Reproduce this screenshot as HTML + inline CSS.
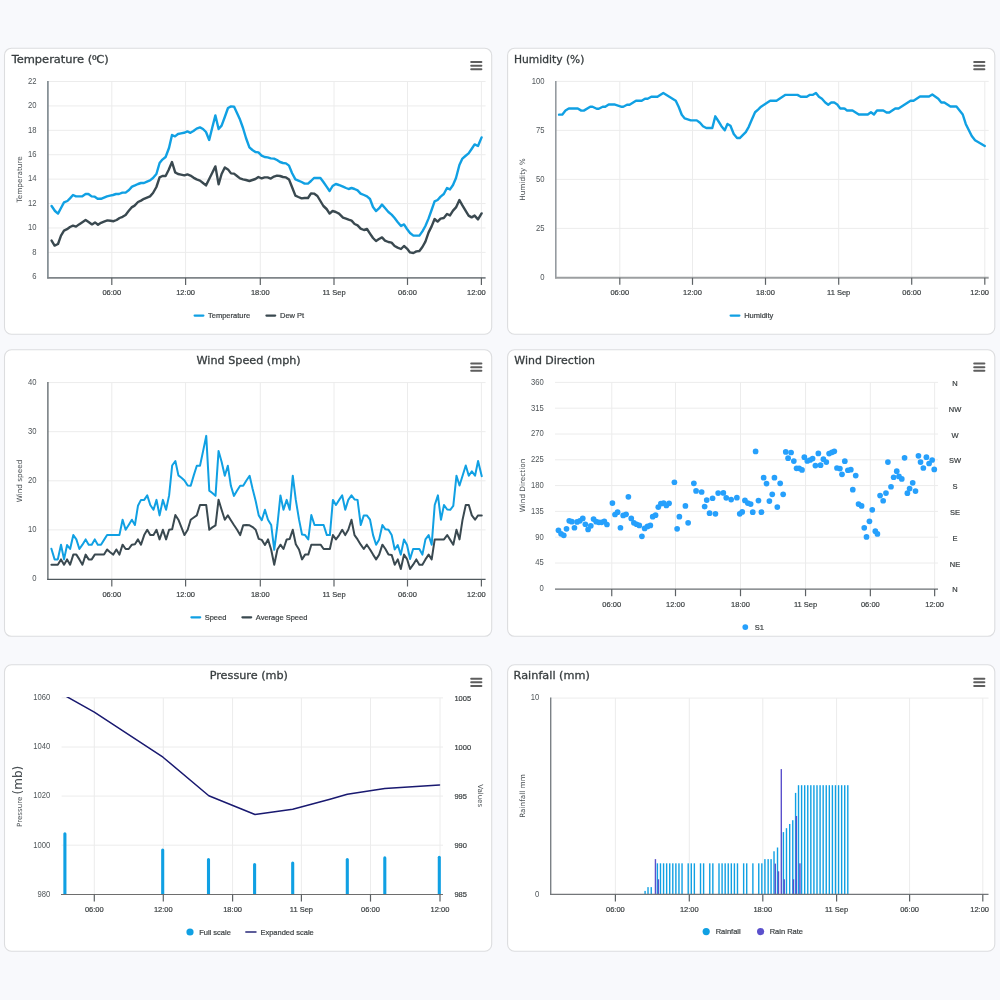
<!DOCTYPE html>
<html lang="en">
<head>
<meta charset="utf-8">
<title>Weather Charts</title>
<style>
html,body{margin:0;padding:0}
body{width:1000px;height:1000px;overflow:hidden;background:#f8f9fc;position:relative;font-family:"Liberation Sans",sans-serif}
.card{position:absolute}
.card svg{position:absolute;left:0;top:0;display:block}
svg text{font-family:"Liberation Sans",sans-serif;stroke:#3c4143;stroke-width:0.2px}
svg text.pp{font-family:"Liberation Sans",sans-serif;stroke:none;fill:#50565a}
svg text.yt{font-family:"DejaVu Sans","Liberation Sans",sans-serif;stroke:none;fill:#4a5054}
svg text.tt{font-family:"DejaVu Sans","Liberation Sans",sans-serif;stroke:#373d3f;stroke-width:0.3px}
svg text.tb{font-family:"DejaVu Sans","Liberation Sans",sans-serif;letter-spacing:0.3px;stroke:#373d3f;stroke-width:0.45px}
</style>
</head>
<body>
<div class="card" style="left:2px;top:46px;width:493px;height:291px"><svg width="493" height="291" viewBox="2 46 493 291"><rect x="4.5" y="48.2" width="487.2" height="286" rx="7" fill="#fff" stroke="#dcdddf" stroke-width="1.1"/><line x1="47.9" y1="81.5" x2="485.6" y2="81.5" stroke="#ececec" stroke-width="1" /><line x1="47.9" y1="105.91" x2="485.6" y2="105.91" stroke="#ececec" stroke-width="1" /><line x1="47.9" y1="130.32" x2="485.6" y2="130.32" stroke="#ececec" stroke-width="1" /><line x1="47.9" y1="154.73" x2="485.6" y2="154.73" stroke="#ececec" stroke-width="1" /><line x1="47.9" y1="179.14" x2="485.6" y2="179.14" stroke="#ececec" stroke-width="1" /><line x1="47.9" y1="203.55" x2="485.6" y2="203.55" stroke="#ececec" stroke-width="1" /><line x1="47.9" y1="227.96" x2="485.6" y2="227.96" stroke="#ececec" stroke-width="1" /><line x1="47.9" y1="252.37" x2="485.6" y2="252.37" stroke="#ececec" stroke-width="1" /><line x1="111.8" y1="81.5" x2="111.8" y2="277.6" stroke="#ececec" stroke-width="1" /><line x1="185.6" y1="81.5" x2="185.6" y2="277.6" stroke="#ececec" stroke-width="1" /><line x1="260.3" y1="81.5" x2="260.3" y2="277.6" stroke="#ececec" stroke-width="1" /><line x1="334" y1="81.5" x2="334" y2="277.6" stroke="#ececec" stroke-width="1" /><line x1="407.5" y1="81.5" x2="407.5" y2="277.6" stroke="#ececec" stroke-width="1" /><line x1="481.4" y1="81.5" x2="481.4" y2="277.6" stroke="#ececec" stroke-width="1" /><text transform="translate(36.6 83.8) scale(0.88 1)" font-size="8.7" text-anchor="end" fill="#3c4143" class="pp">22</text><text transform="translate(36.6 108.21) scale(0.88 1)" font-size="8.7" text-anchor="end" fill="#3c4143" class="pp">20</text><text transform="translate(36.6 132.62) scale(0.88 1)" font-size="8.7" text-anchor="end" fill="#3c4143" class="pp">18</text><text transform="translate(36.6 157.03) scale(0.88 1)" font-size="8.7" text-anchor="end" fill="#3c4143" class="pp">16</text><text transform="translate(36.6 181.44) scale(0.88 1)" font-size="8.7" text-anchor="end" fill="#3c4143" class="pp">14</text><text transform="translate(36.6 205.85) scale(0.88 1)" font-size="8.7" text-anchor="end" fill="#3c4143" class="pp">12</text><text transform="translate(36.6 230.26) scale(0.88 1)" font-size="8.7" text-anchor="end" fill="#3c4143" class="pp">10</text><text transform="translate(36.6 254.67) scale(0.88 1)" font-size="8.7" text-anchor="end" fill="#3c4143" class="pp">8</text><text transform="translate(36.6 279.08) scale(0.88 1)" font-size="8.7" text-anchor="end" fill="#3c4143" class="pp">6</text><text transform="translate(21.8 179.4) rotate(-90)" font-size="7.3" text-anchor="middle" fill="#3c4143" class="yt" >Temperature</text><polyline points="51.6,206 55,211 58,213.6 61,208 64,202.4 67.4,201 70,198.4 73,195 76,196.4 79,196.4 82,196.4 85.6,194 88.4,194 91.6,196.4 94.4,196.6 97.6,198.8 101,198.8 104,197.6 107,196.4 110,195.6 113,195 116,194 119,194 122.4,192.6 125.6,192.6 129,190 132,186.6 135,185.4 138,184 141,183 144,183 147,181.6 150,180.4 153,178 156.4,174 159.6,163 162.4,159.6 165.6,157 169,148 172,135 175,136.4 178,134 181,133.4 184,132.8 187.4,131.4 190.4,132.8 193.4,131 196.6,128.6 200,127.4 203,129 206,132 209.2,140 212.4,127 215.4,115.4 218.6,129 221.6,125.6 224.8,117 228,108 231,106.4 234,106.6 237,113 240,119.6 243,128 246,138 249.4,147.4 252.4,150 255.4,152 258.4,152.4 261.6,155.6 264.6,157 267.6,157.4 270.8,158.4 274,158.6 277,160 280,162 283,163 286,163.4 289,165.6 292,173 295.4,179.4 298.4,180.6 301.6,182 304.6,183.6 308,183.6 311,181 314,178 317.4,178 320.4,178 323.4,182 326.6,186.6 329.6,191 332.6,186 335.8,184 339,185 340,185.4 343,186.6 346,188 348.6,189 351.6,188 354.6,189 357.6,190.4 360.6,193.6 364,195 367,196.4 370,199 373,207 376,211 379,208.4 382,204.6 385,208 388.4,212 391.6,214.6 394.6,218 397.6,222 401,226 404,224.4 407,229 410,233 413.4,235.6 416.4,235.6 419.4,235.6 422.4,231.4 425.4,226 428.6,218.4 431.6,210 434.6,201.4 437.6,200 440.6,196.6 443.8,194 447,188 450,189.4 453,185 456,178 459.4,165 462.4,158.6 465.4,156 468.6,153.4 471.6,149 474.6,144.4 478,146 481.6,137.4" fill="none" stroke="#10a0e3" stroke-width="2.4" stroke-linejoin="round" stroke-linecap="round"/><polyline points="51.6,240.6 54.6,245.6 58,244 61,235.6 64,230.6 67,229.2 70,227 73,225.6 76,226.6 79,224.4 82,222.4 85.6,220 88.6,222 92,224.4 95,222.4 98,224.8 101,222.8 104,221.6 107.4,220.4 110.4,220.8 113.6,221.2 116.6,220 119.6,218 122.6,216.8 125.6,215 128.6,211 131.6,207.4 134.6,205.6 138,202 141,200.6 144,198.8 147,197.6 150,196.4 153,193 156.4,187 159.6,177.4 162.4,176 165.6,176 168.6,170 172,162 175.2,172.4 178,174 181,174.6 184.4,175.4 187.4,174.4 190.4,175.6 193.4,177.6 196.6,179.4 200,180.6 203,183 206,185.4 209.2,179 212.4,172.4 215.4,166.4 218.6,184.4 221.6,174 224.8,167.4 228,169.4 231,173.4 234,173.6 237,176 240,178.4 243,179.4 246,180 249.4,181 252.4,180 255.4,179 258.4,177 261.6,178.4 264.6,177.4 267.6,177.4 270.8,178.6 274,176.6 277,175.6 280,176 283,177 286,177.4 289,179.4 292,187 295.4,195.6 298.4,197 301.6,198.4 304.6,198 308,198 311,193.4 314,193.6 317.4,196 320.4,201 323.4,206 326.6,209 329.6,213.6 332.6,211 335.8,212 339,213.6 340,214.6 343,217.6 346,218.6 348.6,219.6 351.6,220.6 354.6,224 357.6,225.4 360.6,228.6 364,230 367,229 370,233.6 373,238 376,241 379,239 382,237.4 385,240.6 388.4,242 391.6,242.6 394.6,246 397.6,247.6 401,249 404,246 407,248.6 410,252.4 413.4,253 416.4,251.4 419.4,251 422.4,247 425.4,241.6 428.6,232.4 431.6,226.4 434.6,219 437.6,221.6 440.6,218.6 443.8,218 447,214 450,215.4 453,210.6 456,207.4 459.4,200 462.4,205.4 465.4,210.4 468.6,215.6 471.6,217.4 474.6,215.6 478,219.4 481.6,213.4" fill="none" stroke="#3a4950" stroke-width="2.4" stroke-linejoin="round" stroke-linecap="round"/><line x1="47.9" y1="81" x2="47.9" y2="278.4" stroke="#7a858b" stroke-width="1.6" /><line x1="47.2" y1="277.85" x2="485.6" y2="277.85" stroke="#7f8589" stroke-width="1.8" /><line x1="111.8" y1="277.85" x2="111.8" y2="284.95" stroke="#5d6265" stroke-width="1.2" /><text x="111.8" y="295.2" font-size="7.5" text-anchor="middle" fill="#3c4143" >06:00</text><line x1="185.6" y1="277.85" x2="185.6" y2="284.95" stroke="#5d6265" stroke-width="1.2" /><text x="185.6" y="295.2" font-size="7.5" text-anchor="middle" fill="#3c4143" >12:00</text><line x1="260.3" y1="277.85" x2="260.3" y2="284.95" stroke="#5d6265" stroke-width="1.2" /><text x="260.3" y="295.2" font-size="7.5" text-anchor="middle" fill="#3c4143" >18:00</text><line x1="334" y1="277.85" x2="334" y2="284.95" stroke="#5d6265" stroke-width="1.2" /><text x="334" y="295.2" font-size="7.5" text-anchor="middle" fill="#3c4143" >11 Sep</text><line x1="407.5" y1="277.85" x2="407.5" y2="284.95" stroke="#5d6265" stroke-width="1.2" /><text x="407.5" y="295.2" font-size="7.5" text-anchor="middle" fill="#3c4143" >06:00</text><line x1="481.4" y1="277.85" x2="481.4" y2="284.95" stroke="#5d6265" stroke-width="1.2" /><text x="485.8" y="295.2" font-size="7.5" text-anchor="end" fill="#3c4143" >12:00</text><text x="11.65" y="63" font-size="11" text-anchor="start" fill="#373d3f" class="tt" textLength="97.2" lengthAdjust="spacingAndGlyphs">Temperature (<tspan style="font-family:&quot;Liberation Sans&quot;,sans-serif">º</tspan>C)</text><g class="menu"><rect x="470.2" y="61" width="12.2" height="2" rx="1" fill="#5e5e5e"/><rect x="470.2" y="64.63" width="12.2" height="2" rx="1" fill="#5e5e5e"/><rect x="470.2" y="68.26" width="12.2" height="2" rx="1" fill="#5e5e5e"/></g><rect x="193.5" y="314.5" width="11" height="2.2" rx="1.1" fill="#10a0e3"/><text x="208" y="318" font-size="7.5" text-anchor="start" fill="#3c4143" >Temperature</text><rect x="265.3" y="314.5" width="11" height="2.2" rx="1.1" fill="#3a4950"/><text x="280" y="318" font-size="7.5" text-anchor="start" fill="#3c4143" >Dew Pt</text></svg></div>
<div class="card" style="left:505px;top:46px;width:493px;height:291px"><svg width="493" height="291" viewBox="505 46 493 291"><rect x="507.6" y="48.2" width="487.2" height="286" rx="7" fill="#fff" stroke="#dcdddf" stroke-width="1.1"/><line x1="556" y1="81.4" x2="988.7" y2="81.4" stroke="#ececec" stroke-width="1" /><line x1="556" y1="130.4" x2="988.7" y2="130.4" stroke="#ececec" stroke-width="1" /><line x1="556" y1="179.4" x2="988.7" y2="179.4" stroke="#ececec" stroke-width="1" /><line x1="556" y1="228.4" x2="988.7" y2="228.4" stroke="#ececec" stroke-width="1" /><line x1="619.8" y1="81.4" x2="619.8" y2="277.6" stroke="#ececec" stroke-width="1" /><line x1="692.5" y1="81.4" x2="692.5" y2="277.6" stroke="#ececec" stroke-width="1" /><line x1="765.5" y1="81.4" x2="765.5" y2="277.6" stroke="#ececec" stroke-width="1" /><line x1="838.7" y1="81.4" x2="838.7" y2="277.6" stroke="#ececec" stroke-width="1" /><line x1="911.7" y1="81.4" x2="911.7" y2="277.6" stroke="#ececec" stroke-width="1" /><line x1="984.8" y1="81.4" x2="984.8" y2="277.6" stroke="#ececec" stroke-width="1" /><text transform="translate(544.6 83.7) scale(0.88 1)" font-size="8.7" text-anchor="end" fill="#3c4143" class="pp">100</text><text transform="translate(544.6 132.7) scale(0.88 1)" font-size="8.7" text-anchor="end" fill="#3c4143" class="pp">75</text><text transform="translate(544.6 181.7) scale(0.88 1)" font-size="8.7" text-anchor="end" fill="#3c4143" class="pp">50</text><text transform="translate(544.6 230.7) scale(0.88 1)" font-size="8.7" text-anchor="end" fill="#3c4143" class="pp">25</text><text transform="translate(544.6 279.7) scale(0.88 1)" font-size="8.7" text-anchor="end" fill="#3c4143" class="pp">0</text><text transform="translate(525.2 179.6) rotate(-90)" font-size="7.3" text-anchor="middle" fill="#3c4143" class="yt" >Humidity %</text><polyline points="559.05,114.65 562.2,114.65 565.5,110.45 568.8,108.5 577.8,108.5 581.25,110.6 583.8,110.6 590.25,106.7 592.5,106.7 596.7,108.8 598.8,108.8 602.7,106.7 605.25,106.7 608.7,104.45 614.25,104.45 621,106.7 623.25,106.7 627,104.75 629.55,104.75 636,100.7 641.7,100.7 645,98.75 647.7,98.75 651.3,96.8 657.45,96.8 663.3,92.9 675.75,100.7 678.75,107 681.75,114.8 684.75,118.4 690.75,120.35 696.75,120.35 700,122.75 703,126.2 706.3,128 712.3,128 715.3,116.3 718.45,121.25 721.45,126.2 724.75,130.25 727.45,123.95 730.45,125.75 733.75,134 737.05,138.05 739.75,138.05 745.75,132.2 748.75,126.8 751.75,119.75 755.05,112.25 758.05,109.55 761.05,106.7 764.05,104.75 767.05,102.8 770.2,100.7 776.5,100.7 779.5,98.75 782.5,96.8 785.5,94.85 797.5,94.85 800.8,96.8 806.8,96.8 809.95,94.85 812.95,94.85 815.95,92.9 818.95,96.8 821.95,98.75 825.25,102.5 828.25,104.75 831.25,102.5 834.25,102.5 837.25,104.45 840.25,108.5 843.55,108.5 845,108.8 846.8,110.45 852.5,110.45 858.8,114.5 867.8,114.5 870.95,112.25 873.95,114.5 876.95,110.45 883.25,110.45 886.55,112.55 889.25,112.55 895.25,108.5 898.55,108.5 910.55,100.7 913.55,100.7 920,96.5 929,96.5 932.3,94.55 938.3,98.75 941.3,102.5 944.3,102.5 950.45,106.55 956.45,106.55 962.75,114.5 965.75,123.95 971.75,135.95 975.05,140.3 984.8,146" fill="none" stroke="#10a0e3" stroke-width="2.4" stroke-linejoin="round" stroke-linecap="round"/><line x1="555.8" y1="80.9" x2="555.8" y2="278.5" stroke="#959ba0" stroke-width="1.6" /><line x1="555.1" y1="277.75" x2="988.7" y2="277.75" stroke="#9c9fa1" stroke-width="1.9" /><line x1="619.8" y1="277.75" x2="619.8" y2="284.85" stroke="#5d6265" stroke-width="1.2" /><text x="619.8" y="295.2" font-size="7.5" text-anchor="middle" fill="#3c4143" >06:00</text><line x1="692.5" y1="277.75" x2="692.5" y2="284.85" stroke="#5d6265" stroke-width="1.2" /><text x="692.5" y="295.2" font-size="7.5" text-anchor="middle" fill="#3c4143" >12:00</text><line x1="765.5" y1="277.75" x2="765.5" y2="284.85" stroke="#5d6265" stroke-width="1.2" /><text x="765.5" y="295.2" font-size="7.5" text-anchor="middle" fill="#3c4143" >18:00</text><line x1="838.7" y1="277.75" x2="838.7" y2="284.85" stroke="#5d6265" stroke-width="1.2" /><text x="838.7" y="295.2" font-size="7.5" text-anchor="middle" fill="#3c4143" >11 Sep</text><line x1="911.7" y1="277.75" x2="911.7" y2="284.85" stroke="#5d6265" stroke-width="1.2" /><text x="911.7" y="295.2" font-size="7.5" text-anchor="middle" fill="#3c4143" >06:00</text><line x1="984.8" y1="277.75" x2="984.8" y2="284.85" stroke="#5d6265" stroke-width="1.2" /><text x="989" y="295.2" font-size="7.5" text-anchor="end" fill="#3c4143" >12:00</text><text x="513.9" y="63" font-size="11" text-anchor="start" fill="#373d3f" class="tt" textLength="70.6" lengthAdjust="spacingAndGlyphs">Humidity (%)</text><g class="menu"><rect x="973.2" y="61" width="12.2" height="2" rx="1" fill="#5e5e5e"/><rect x="973.2" y="64.63" width="12.2" height="2" rx="1" fill="#5e5e5e"/><rect x="973.2" y="68.26" width="12.2" height="2" rx="1" fill="#5e5e5e"/></g><rect x="729.5" y="314.5" width="11" height="2.2" rx="1.1" fill="#10a0e3"/><text x="744.2" y="318" font-size="7.5" text-anchor="start" fill="#3c4143" >Humidity</text></svg></div>
<div class="card" style="left:2px;top:347px;width:493px;height:292px"><svg width="493" height="292" viewBox="2 347 493 292"><rect x="4.5" y="349.8" width="487.2" height="286.5" rx="7" fill="#fff" stroke="#dcdddf" stroke-width="1.1"/><line x1="47.9" y1="382.6" x2="485.6" y2="382.6" stroke="#ececec" stroke-width="1" /><line x1="47.9" y1="431.7" x2="485.6" y2="431.7" stroke="#ececec" stroke-width="1" /><line x1="47.9" y1="480.8" x2="485.6" y2="480.8" stroke="#ececec" stroke-width="1" /><line x1="47.9" y1="529.9" x2="485.6" y2="529.9" stroke="#ececec" stroke-width="1" /><line x1="111.8" y1="382.6" x2="111.8" y2="579.4" stroke="#ececec" stroke-width="1" /><line x1="185.6" y1="382.6" x2="185.6" y2="579.4" stroke="#ececec" stroke-width="1" /><line x1="260.3" y1="382.6" x2="260.3" y2="579.4" stroke="#ececec" stroke-width="1" /><line x1="334" y1="382.6" x2="334" y2="579.4" stroke="#ececec" stroke-width="1" /><line x1="407.5" y1="382.6" x2="407.5" y2="579.4" stroke="#ececec" stroke-width="1" /><line x1="481.4" y1="382.6" x2="481.4" y2="579.4" stroke="#ececec" stroke-width="1" /><text transform="translate(36.6 384.9) scale(0.88 1)" font-size="8.7" text-anchor="end" fill="#3c4143" class="pp">40</text><text transform="translate(36.6 434) scale(0.88 1)" font-size="8.7" text-anchor="end" fill="#3c4143" class="pp">30</text><text transform="translate(36.6 483.1) scale(0.88 1)" font-size="8.7" text-anchor="end" fill="#3c4143" class="pp">20</text><text transform="translate(36.6 532.2) scale(0.88 1)" font-size="8.7" text-anchor="end" fill="#3c4143" class="pp">10</text><text transform="translate(36.6 581.3) scale(0.88 1)" font-size="8.7" text-anchor="end" fill="#3c4143" class="pp">0</text><text transform="translate(21.8 481) rotate(-90)" font-size="7.3" text-anchor="middle" fill="#3c4143" class="yt" >Wind speed</text><polyline points="51.4,548.68 54.6,559.4 57.8,559.4 61,544.68 64.04,559.4 67.08,545 70.12,549 73.32,535.08 76.36,539.4 79.4,549 82.44,544.68 85.64,539.4 88.68,544.68 91.72,544.68 94.76,539.4 97.8,544.68 101,544.68 104.04,539.88 107.08,535.08 110.12,535.08 113.32,535.08 116.36,535.08 119.4,535.08 122.6,519.72 125.64,529.8 128.68,525 131.88,519.72 134.92,525 137.96,505.8 141,499.88 144.2,499.88 147.24,495.4 150.28,505 153.48,509.8 156.52,499.88 159.56,515.4 162.88,499.88 166.08,509.8 169.12,495.4 172.16,465.48 175.36,461 178.4,475.4 181.44,477.8 184.48,480.52 187.68,485.48 190.72,485.8 193.76,475.4 196.8,465.8 200,465.8 203.04,451.4 206.24,435.88 209.28,490.6 212.32,493 215.52,495.88 218.56,450.92 221.6,461.8 224.8,475.72 227.84,465.8 230.88,485.8 233.92,495.88 237.12,490.6 240.16,485.8 243.2,485.8 246.4,480.52 249.6,475.72 252.64,489 255.68,501 258.72,515.4 261.76,520.2 264.96,509.8 268,519.72 271.2,525 274.24,549.8 277.4,525 280.44,495.4 283.48,509.8 286.68,499.88 289.72,509.8 292.76,475.72 295.8,499.88 299,519.4 302.04,534.6 305.08,535.08 308.28,539.4 311.32,515.08 314.52,525 317.56,525 320.6,525 323.64,525 326.84,535.08 329.88,535.08 332.92,499.88 335.96,505 339.16,499.88 342.2,495.4 345.24,509.8 348.28,499.88 351.48,495.4 354.52,499.4 357.56,499.88 360.76,525 363.8,515.4 366.84,515.4 370.04,519.72 373.08,535.08 376.12,544.68 379.16,539.4 382.4,525 385.44,529.32 388.48,529.8 391.68,535.08 394.72,549.48 397.76,545 400.8,554.6 404,539.4 407.04,545 410.08,559.08 413.12,549 416.32,549 419.36,549 422.4,554.6 425.44,539.4 428.64,535.08 431.68,544.68 434.72,505 437.92,495.4 440.96,519.72 444,505 447.2,509.48 450.24,509.8 453.28,505.8 456.48,475.72 459.52,485.48 462.56,475.72 465.76,465.48 468.8,475.72 471.84,471.4 475.04,475.72 478.08,461 481.76,476.2" fill="none" stroke="#10a0e3" stroke-width="2" stroke-linejoin="round" stroke-linecap="round"/><polyline points="51.4,564.68 54.6,564.68 57.8,564.68 61,559.4 64.04,564.68 67.08,559.4 70.12,564.68 73.32,554.6 76.36,554.6 79.4,559.4 82.44,564.68 85.64,554.6 88.68,559.4 91.72,559.4 94.76,554.6 97.8,554.6 101,554.6 104.04,554.6 107.08,549.48 110.12,552.2 113.32,554.6 116.36,549.48 119.4,554.6 122.6,544.68 125.64,549 128.68,549 131.88,544.68 134.92,544.2 137.96,539.4 141,544.68 144.2,535.08 147.24,529.8 150.28,535.08 153.48,535.08 156.52,529.8 159.56,539.4 162.88,529.8 166.08,539.4 169.12,529.8 172.16,529.32 175.36,515.08 178.4,519.72 181.44,527.4 184.48,535.08 187.68,529.8 190.72,519.72 193.76,517.48 196.8,515.4 200,505 203.04,505 206.24,505 209.28,529.8 212.32,527.4 215.52,525.32 218.56,499.72 221.6,509.8 224.8,519.72 227.84,515.4 230.88,520.2 233.92,525 237.12,529.8 240.16,535.08 243.2,525.32 246.4,525 249.6,525.32 252.64,527.08 255.68,529.8 258.72,538.92 261.76,539.88 264.96,545 268,539.4 271.2,549.8 274.24,564.68 277.4,549.48 280.44,544.68 283.48,549 286.68,539.4 289.72,538.92 292.76,529.8 295.8,544.2 299,549.48 302.04,559.4 305.08,554.6 308.28,554.6 311.32,544.68 314.52,544.68 317.56,544.68 320.6,544.68 323.64,549 326.84,549 329.88,549 332.92,535.08 335.96,539.4 339.16,535.08 342.2,529.8 345.24,535.08 348.28,529.8 351.48,519.72 354.52,535.08 357.56,539.4 360.76,544.68 363.8,549 366.84,544.68 370.04,549.48 373.08,554.6 376.12,559.4 379.16,554.6 382.4,544.68 385.44,549 388.48,554.6 391.68,554.92 394.72,564.68 397.76,559.4 400.8,569 404,554.6 407.04,559.08 410.08,569 413.12,564.68 416.32,559.4 419.36,564.68 422.4,564.68 425.44,559.4 428.64,554.6 431.68,559.4 434.72,539.4 437.92,539.4 440.96,539.4 444,539.4 447.2,535.08 450.24,539.88 453.28,544.68 456.48,529.8 459.52,539.4 462.56,519.72 465.76,505 468.8,505 471.84,515.4 475.04,519.72 478.08,515.4 481.76,515.4" fill="none" stroke="#3a4950" stroke-width="2" stroke-linejoin="round" stroke-linecap="round"/><line x1="47.9" y1="382.1" x2="47.9" y2="580" stroke="#4f585d" stroke-width="1.2" /><line x1="47.3" y1="579.4" x2="485.6" y2="579.4" stroke="#4f585d" stroke-width="1.2" /><line x1="111.8" y1="579.4" x2="111.8" y2="586.5" stroke="#5d6265" stroke-width="1.2" /><text x="111.8" y="597" font-size="7.5" text-anchor="middle" fill="#3c4143" >06:00</text><line x1="185.6" y1="579.4" x2="185.6" y2="586.5" stroke="#5d6265" stroke-width="1.2" /><text x="185.6" y="597" font-size="7.5" text-anchor="middle" fill="#3c4143" >12:00</text><line x1="260.3" y1="579.4" x2="260.3" y2="586.5" stroke="#5d6265" stroke-width="1.2" /><text x="260.3" y="597" font-size="7.5" text-anchor="middle" fill="#3c4143" >18:00</text><line x1="334" y1="579.4" x2="334" y2="586.5" stroke="#5d6265" stroke-width="1.2" /><text x="334" y="597" font-size="7.5" text-anchor="middle" fill="#3c4143" >11 Sep</text><line x1="407.5" y1="579.4" x2="407.5" y2="586.5" stroke="#5d6265" stroke-width="1.2" /><text x="407.5" y="597" font-size="7.5" text-anchor="middle" fill="#3c4143" >06:00</text><line x1="481.4" y1="579.4" x2="481.4" y2="586.5" stroke="#5d6265" stroke-width="1.2" /><text x="485.8" y="597" font-size="7.5" text-anchor="end" fill="#3c4143" >12:00</text><text x="196.5" y="364.3" font-size="11" text-anchor="start" fill="#373d3f" class="tt" textLength="104.2" lengthAdjust="spacingAndGlyphs">Wind Speed (mph)</text><g class="menu"><rect x="470.2" y="362.5" width="12.2" height="2" rx="1" fill="#5e5e5e"/><rect x="470.2" y="366.13" width="12.2" height="2" rx="1" fill="#5e5e5e"/><rect x="470.2" y="369.76" width="12.2" height="2" rx="1" fill="#5e5e5e"/></g><rect x="190.3" y="616.2" width="11" height="2.2" rx="1.1" fill="#10a0e3"/><text x="204.7" y="619.7" font-size="7.5" text-anchor="start" fill="#3c4143" >Speed</text><rect x="241.3" y="616.2" width="11" height="2.2" rx="1.1" fill="#3a4950"/><text x="255.8" y="619.7" font-size="7.5" text-anchor="start" fill="#3c4143" >Average Speed</text></svg></div>
<div class="card" style="left:505px;top:347px;width:493px;height:292px"><svg width="493" height="292" viewBox="505 347 493 292"><rect x="507.6" y="349.8" width="487.2" height="286.5" rx="7" fill="#fff" stroke="#dcdddf" stroke-width="1.1"/><line x1="555" y1="382.4" x2="938" y2="382.4" stroke="#ececec" stroke-width="1" /><line x1="555" y1="408.2" x2="938" y2="408.2" stroke="#ececec" stroke-width="1" /><line x1="555" y1="434" x2="938" y2="434" stroke="#ececec" stroke-width="1" /><line x1="555" y1="459.8" x2="938" y2="459.8" stroke="#ececec" stroke-width="1" /><line x1="555" y1="485.6" x2="938" y2="485.6" stroke="#ececec" stroke-width="1" /><line x1="555" y1="511.4" x2="938" y2="511.4" stroke="#ececec" stroke-width="1" /><line x1="555" y1="537.2" x2="938" y2="537.2" stroke="#ececec" stroke-width="1" /><line x1="555" y1="563" x2="938" y2="563" stroke="#ececec" stroke-width="1" /><line x1="611.75" y1="382.4" x2="611.75" y2="588.8" stroke="#ececec" stroke-width="1" /><line x1="675.5" y1="382.4" x2="675.5" y2="588.8" stroke="#ececec" stroke-width="1" /><line x1="740.5" y1="382.4" x2="740.5" y2="588.8" stroke="#ececec" stroke-width="1" /><line x1="805.55" y1="382.4" x2="805.55" y2="588.8" stroke="#ececec" stroke-width="1" /><line x1="870.35" y1="382.4" x2="870.35" y2="588.8" stroke="#ececec" stroke-width="1" /><line x1="934.65" y1="382.4" x2="934.65" y2="588.8" stroke="#ececec" stroke-width="1" /><text transform="translate(543.8 384.7) scale(0.88 1)" font-size="8.7" text-anchor="end" fill="#3c4143" class="pp">360</text><text transform="translate(543.8 410.5) scale(0.88 1)" font-size="8.7" text-anchor="end" fill="#3c4143" class="pp">315</text><text transform="translate(543.8 436.3) scale(0.88 1)" font-size="8.7" text-anchor="end" fill="#3c4143" class="pp">270</text><text transform="translate(543.8 462.1) scale(0.88 1)" font-size="8.7" text-anchor="end" fill="#3c4143" class="pp">225</text><text transform="translate(543.8 487.9) scale(0.88 1)" font-size="8.7" text-anchor="end" fill="#3c4143" class="pp">180</text><text transform="translate(543.8 513.7) scale(0.88 1)" font-size="8.7" text-anchor="end" fill="#3c4143" class="pp">135</text><text transform="translate(543.8 539.5) scale(0.88 1)" font-size="8.7" text-anchor="end" fill="#3c4143" class="pp">90</text><text transform="translate(543.8 565.3) scale(0.88 1)" font-size="8.7" text-anchor="end" fill="#3c4143" class="pp">45</text><text transform="translate(543.8 591.1) scale(0.88 1)" font-size="8.7" text-anchor="end" fill="#3c4143" class="pp">0</text><text x="955" y="385.9" font-size="7.5" text-anchor="middle" fill="#3c4143" >N</text><text x="955" y="411.7" font-size="7.5" text-anchor="middle" fill="#3c4143" >NW</text><text x="955" y="437.5" font-size="7.5" text-anchor="middle" fill="#3c4143" >W</text><text x="955" y="463.3" font-size="7.5" text-anchor="middle" fill="#3c4143" >SW</text><text x="955" y="489.1" font-size="7.5" text-anchor="middle" fill="#3c4143" >S</text><text x="955" y="514.9" font-size="7.5" text-anchor="middle" fill="#3c4143" >SE</text><text x="955" y="540.7" font-size="7.5" text-anchor="middle" fill="#3c4143" >E</text><text x="955" y="566.5" font-size="7.5" text-anchor="middle" fill="#3c4143" >NE</text><text x="955" y="592.3" font-size="7.5" text-anchor="middle" fill="#3c4143" >N</text><text transform="translate(525.2 485.5) rotate(-90)" font-size="7.3" text-anchor="middle" fill="#3c4143" class="yt" >Wind Direction</text><g fill="#26a0fc"><circle cx="558.45" cy="530.35" r="2.85"/><circle cx="561.05" cy="533.86" r="2.85"/><circle cx="563.78" cy="535.29" r="2.85"/><circle cx="566.51" cy="528.79" r="2.85"/><circle cx="569.24" cy="520.86" r="2.85"/><circle cx="571.84" cy="521.64" r="2.85"/><circle cx="574.44" cy="527.75" r="2.85"/><circle cx="577.04" cy="521.9" r="2.85"/><circle cx="579.9" cy="520.86" r="2.85"/><circle cx="582.76" cy="518.39" r="2.85"/><circle cx="585.36" cy="524.24" r="2.85"/><circle cx="588.09" cy="529.44" r="2.85"/><circle cx="590.82" cy="525.8" r="2.85"/><circle cx="593.55" cy="519.04" r="2.85"/><circle cx="596.15" cy="521.64" r="2.85"/><circle cx="598.88" cy="522.29" r="2.85"/><circle cx="601.61" cy="522.29" r="2.85"/><circle cx="604.34" cy="521.25" r="2.85"/><circle cx="606.94" cy="524.5" r="2.85"/><circle cx="612.4" cy="503.05" r="2.85"/><circle cx="615" cy="514.49" r="2.85"/><circle cx="617.6" cy="512.15" r="2.85"/><circle cx="620.46" cy="527.75" r="2.85"/><circle cx="623.19" cy="515.4" r="2.85"/><circle cx="626.05" cy="514.36" r="2.85"/><circle cx="628.39" cy="496.81" r="2.85"/><circle cx="631.25" cy="518.39" r="2.85"/><circle cx="633.85" cy="522.81" r="2.85"/><circle cx="636.58" cy="524.24" r="2.85"/><circle cx="639.31" cy="525.41" r="2.85"/><circle cx="641.91" cy="536.33" r="2.85"/><circle cx="644.64" cy="528.4" r="2.85"/><circle cx="647.5" cy="526.45" r="2.85"/><circle cx="650.36" cy="525.41" r="2.85"/><circle cx="652.7" cy="516.7" r="2.85"/><circle cx="655.56" cy="515.14" r="2.85"/><circle cx="658.29" cy="507.21" r="2.85"/><circle cx="660.89" cy="503.7" r="2.85"/><circle cx="663.62" cy="503.05" r="2.85"/><circle cx="666.35" cy="505.39" r="2.85"/><circle cx="669.08" cy="503.31" r="2.85"/><circle cx="674.41" cy="482.25" r="2.85"/><circle cx="677.14" cy="528.79" r="2.85"/><circle cx="679.35" cy="516.7" r="2.85"/><circle cx="685.4" cy="505.91" r="2.85"/><circle cx="688.13" cy="522.81" r="2.85"/><circle cx="693.85" cy="483.29" r="2.85"/><circle cx="696.06" cy="490.96" r="2.85"/><circle cx="701.65" cy="492" r="2.85"/><circle cx="704.64" cy="506.56" r="2.85"/><circle cx="706.72" cy="500.06" r="2.85"/><circle cx="709.58" cy="513.19" r="2.85"/><circle cx="712.57" cy="498.24" r="2.85"/><circle cx="715.43" cy="513.84" r="2.85"/><circle cx="718.16" cy="493.04" r="2.85"/><circle cx="723.36" cy="492.91" r="2.85"/><circle cx="726.22" cy="497.85" r="2.85"/><circle cx="731.16" cy="499.54" r="2.85"/><circle cx="736.88" cy="497.72" r="2.85"/><circle cx="739.74" cy="513.84" r="2.85"/><circle cx="742.21" cy="511.89" r="2.85"/><circle cx="744.94" cy="500.45" r="2.85"/><circle cx="747.8" cy="503.05" r="2.85"/><circle cx="750.66" cy="504.09" r="2.85"/><circle cx="752.74" cy="512.15" r="2.85"/><circle cx="755.6" cy="451.44" r="2.85"/><circle cx="758.46" cy="500.58" r="2.85"/><circle cx="761.45" cy="512.15" r="2.85"/><circle cx="763.66" cy="477.7" r="2.85"/><circle cx="766.52" cy="483.55" r="2.85"/><circle cx="769.38" cy="501.1" r="2.85"/><circle cx="772.24" cy="494.34" r="2.85"/><circle cx="774.45" cy="477.7" r="2.85"/><circle cx="777.31" cy="507.08" r="2.85"/><circle cx="780.17" cy="483.29" r="2.85"/><circle cx="783.16" cy="494.34" r="2.85"/><circle cx="785.76" cy="451.96" r="2.85"/><circle cx="788.1" cy="458.2" r="2.85"/><circle cx="791.09" cy="452.48" r="2.85"/><circle cx="793.82" cy="461.06" r="2.85"/><circle cx="796.55" cy="468.34" r="2.85"/><circle cx="799.15" cy="468.34" r="2.85"/><circle cx="802.01" cy="469.9" r="2.85"/><circle cx="804.35" cy="457.16" r="2.85"/><circle cx="807.28" cy="461" r="2.85"/><circle cx="810.08" cy="460.02" r="2.85"/><circle cx="812.6" cy="458.62" r="2.85"/><circle cx="815.4" cy="465.62" r="2.85"/><circle cx="818.34" cy="453.44" r="2.85"/><circle cx="820.58" cy="465.2" r="2.85"/><circle cx="823.38" cy="459.18" r="2.85"/><circle cx="826.32" cy="462.12" r="2.85"/><circle cx="829.12" cy="453.58" r="2.85"/><circle cx="831.92" cy="452.32" r="2.85"/><circle cx="834.3" cy="451.34" r="2.85"/><circle cx="836.96" cy="468" r="2.85"/><circle cx="839.9" cy="468.56" r="2.85"/><circle cx="842" cy="474.3" r="2.85"/><circle cx="844.8" cy="461.14" r="2.85"/><circle cx="847.88" cy="470.24" r="2.85"/><circle cx="850.82" cy="469.68" r="2.85"/><circle cx="855.72" cy="475.56" r="2.85"/><circle cx="852.78" cy="489.7" r="2.85"/><circle cx="858.52" cy="504.12" r="2.85"/><circle cx="861.6" cy="505.94" r="2.85"/><circle cx="864.26" cy="527.78" r="2.85"/><circle cx="866.5" cy="536.88" r="2.85"/><circle cx="869.44" cy="521.34" r="2.85"/><circle cx="872.24" cy="509.86" r="2.85"/><circle cx="875.32" cy="531.14" r="2.85"/><circle cx="877.42" cy="533.94" r="2.85"/><circle cx="880.08" cy="495.58" r="2.85"/><circle cx="883.16" cy="500.76" r="2.85"/><circle cx="885.96" cy="493.06" r="2.85"/><circle cx="887.92" cy="462.12" r="2.85"/><circle cx="891" cy="486.76" r="2.85"/><circle cx="893.66" cy="477.24" r="2.85"/><circle cx="896.74" cy="471.22" r="2.85"/><circle cx="898.98" cy="476.4" r="2.85"/><circle cx="901.78" cy="478.92" r="2.85"/><circle cx="904.58" cy="457.78" r="2.85"/><circle cx="907.38" cy="493.2" r="2.85"/><circle cx="909.62" cy="488.58" r="2.85"/><circle cx="912.7" cy="482.84" r="2.85"/><circle cx="915.5" cy="491.1" r="2.85"/><circle cx="918.44" cy="455.82" r="2.85"/><circle cx="920.54" cy="462.12" r="2.85"/><circle cx="923.34" cy="468" r="2.85"/><circle cx="926.42" cy="457.22" r="2.85"/><circle cx="929.08" cy="463.52" r="2.85"/><circle cx="932.16" cy="460.02" r="2.85"/><circle cx="934.26" cy="469.4" r="2.85"/></g><line x1="555" y1="589.1" x2="938" y2="589.1" stroke="#6a6f73" stroke-width="1.3" /><line x1="611.75" y1="589.1" x2="611.75" y2="596.2" stroke="#5d6265" stroke-width="1.2" /><text x="611.75" y="607.4" font-size="7.5" text-anchor="middle" fill="#3c4143" >06:00</text><line x1="675.5" y1="589.1" x2="675.5" y2="596.2" stroke="#5d6265" stroke-width="1.2" /><text x="675.5" y="607.4" font-size="7.5" text-anchor="middle" fill="#3c4143" >12:00</text><line x1="740.5" y1="589.1" x2="740.5" y2="596.2" stroke="#5d6265" stroke-width="1.2" /><text x="740.5" y="607.4" font-size="7.5" text-anchor="middle" fill="#3c4143" >18:00</text><line x1="805.55" y1="589.1" x2="805.55" y2="596.2" stroke="#5d6265" stroke-width="1.2" /><text x="805.55" y="607.4" font-size="7.5" text-anchor="middle" fill="#3c4143" >11 Sep</text><line x1="870.35" y1="589.1" x2="870.35" y2="596.2" stroke="#5d6265" stroke-width="1.2" /><text x="870.35" y="607.4" font-size="7.5" text-anchor="middle" fill="#3c4143" >06:00</text><line x1="934.65" y1="589.1" x2="934.65" y2="596.2" stroke="#5d6265" stroke-width="1.2" /><text x="934.65" y="607.4" font-size="7.5" text-anchor="middle" fill="#3c4143" >12:00</text><text x="514.3" y="364.3" font-size="11" text-anchor="start" fill="#373d3f" class="tt" textLength="80.6" lengthAdjust="spacingAndGlyphs">Wind Direction</text><g class="menu"><rect x="973.2" y="362.5" width="12.2" height="2" rx="1" fill="#5e5e5e"/><rect x="973.2" y="366.13" width="12.2" height="2" rx="1" fill="#5e5e5e"/><rect x="973.2" y="369.76" width="12.2" height="2" rx="1" fill="#5e5e5e"/></g><circle cx="745.3" cy="627.1" r="2.9" fill="#26a0fc"/><text x="754.7" y="629.6" font-size="7.5" text-anchor="start" fill="#3c4143" >S1</text></svg></div>
<div class="card" style="left:2px;top:662px;width:493px;height:292px"><svg width="493" height="292" viewBox="2 662 493 292"><rect x="4.5" y="664.8" width="487.2" height="286.4" rx="7" fill="#fff" stroke="#dcdddf" stroke-width="1.1"/><line x1="61.6" y1="697.9" x2="443" y2="697.9" stroke="#ececec" stroke-width="1" /><line x1="61.6" y1="747" x2="443" y2="747" stroke="#ececec" stroke-width="1" /><line x1="61.6" y1="796.1" x2="443" y2="796.1" stroke="#ececec" stroke-width="1" /><line x1="61.6" y1="845.2" x2="443" y2="845.2" stroke="#ececec" stroke-width="1" /><line x1="94.3" y1="697.9" x2="94.3" y2="894.4" stroke="#ececec" stroke-width="1" /><line x1="163.3" y1="697.9" x2="163.3" y2="894.4" stroke="#ececec" stroke-width="1" /><line x1="232.6" y1="697.9" x2="232.6" y2="894.4" stroke="#ececec" stroke-width="1" /><line x1="301.4" y1="697.9" x2="301.4" y2="894.4" stroke="#ececec" stroke-width="1" /><line x1="370.5" y1="697.9" x2="370.5" y2="894.4" stroke="#ececec" stroke-width="1" /><line x1="440" y1="697.9" x2="440" y2="894.4" stroke="#ececec" stroke-width="1" /><text transform="translate(50.2 700.2) scale(0.88 1)" font-size="8.7" text-anchor="end" fill="#3c4143" class="pp">1060</text><text transform="translate(50.2 749.3) scale(0.88 1)" font-size="8.7" text-anchor="end" fill="#3c4143" class="pp">1040</text><text transform="translate(50.2 798.4) scale(0.88 1)" font-size="8.7" text-anchor="end" fill="#3c4143" class="pp">1020</text><text transform="translate(50.2 847.5) scale(0.88 1)" font-size="8.7" text-anchor="end" fill="#3c4143" class="pp">1000</text><text transform="translate(50.2 896.6) scale(0.88 1)" font-size="8.7" text-anchor="end" fill="#3c4143" class="pp">980</text><text x="454.4" y="700.9" font-size="7.5" text-anchor="start" fill="#3c4143" >1005</text><text x="454.4" y="750" font-size="7.5" text-anchor="start" fill="#3c4143" >1000</text><text x="454.4" y="799.1" font-size="7.5" text-anchor="start" fill="#3c4143" >995</text><text x="454.4" y="848.2" font-size="7.5" text-anchor="start" fill="#3c4143" >990</text><text x="454.4" y="897.3" font-size="7.5" text-anchor="start" fill="#3c4143" >985</text><text transform="translate(21.8 796.4) rotate(-90)" font-size="7.1" text-anchor="middle" fill="#3c4143" class="yt">Pressure <tspan font-size="12">(mb)</tspan></text><text transform="translate(477.6 795.6) rotate(90)" font-size="7" text-anchor="middle" fill="#3c4143" class="yt">Values</text><path d="M63.35 894.4V833.8a1.55 1.55 0 0 1 3.1 0V894.4z" fill="#10a0e3"/><path d="M161.15 894.4V850.1a1.55 1.55 0 0 1 3.1 0V894.4z" fill="#10a0e3"/><path d="M206.95 894.4V859.5a1.55 1.55 0 0 1 3.1 0V894.4z" fill="#10a0e3"/><path d="M253.05 894.4V864.6a1.55 1.55 0 0 1 3.1 0V894.4z" fill="#10a0e3"/><path d="M291.15 894.4V863a1.55 1.55 0 0 1 3.1 0V894.4z" fill="#10a0e3"/><path d="M345.75 894.4V859.5a1.55 1.55 0 0 1 3.1 0V894.4z" fill="#10a0e3"/><path d="M383.25 894.4V857.9a1.55 1.55 0 0 1 3.1 0V894.4z" fill="#10a0e3"/><path d="M437.75 894.4V857.3a1.55 1.55 0 0 1 3.1 0V894.4z" fill="#10a0e3"/><clipPath id="c5"><rect x="61.6" y="697.1" width="381.4" height="197.5"/></clipPath><g clip-path="url(#c5)"><polyline points="64.9,695.6 94.3,712.2 163,757.2 208.8,795.7 255,814.5 292.7,809.3 330,799.3 347.3,794.3 384.8,788.6 439.5,784.9" fill="none" stroke="#191970" stroke-width="1.5" stroke-linejoin="round" stroke-linecap="round"/></g><line x1="61" y1="894.5" x2="443" y2="894.5" stroke="#6e6e6e" stroke-width="1.1" /><line x1="94.3" y1="894.5" x2="94.3" y2="901.6" stroke="#5d6265" stroke-width="1.2" /><text x="94.3" y="912.3" font-size="7.5" text-anchor="middle" fill="#3c4143" >06:00</text><line x1="163.3" y1="894.5" x2="163.3" y2="901.6" stroke="#5d6265" stroke-width="1.2" /><text x="163.3" y="912.3" font-size="7.5" text-anchor="middle" fill="#3c4143" >12:00</text><line x1="232.6" y1="894.5" x2="232.6" y2="901.6" stroke="#5d6265" stroke-width="1.2" /><text x="232.6" y="912.3" font-size="7.5" text-anchor="middle" fill="#3c4143" >18:00</text><line x1="301.4" y1="894.5" x2="301.4" y2="901.6" stroke="#5d6265" stroke-width="1.2" /><text x="301.4" y="912.3" font-size="7.5" text-anchor="middle" fill="#3c4143" >11 Sep</text><line x1="370.5" y1="894.5" x2="370.5" y2="901.6" stroke="#5d6265" stroke-width="1.2" /><text x="370.5" y="912.3" font-size="7.5" text-anchor="middle" fill="#3c4143" >06:00</text><line x1="440" y1="894.5" x2="440" y2="901.6" stroke="#5d6265" stroke-width="1.2" /><text x="440" y="912.3" font-size="7.5" text-anchor="middle" fill="#3c4143" >12:00</text><text x="209.7" y="679.4" font-size="11" text-anchor="start" fill="#373d3f" class="tt" textLength="78.3" lengthAdjust="spacingAndGlyphs">Pressure (mb)</text><g class="menu"><rect x="470.2" y="677.7" width="12.2" height="2" rx="1" fill="#5e5e5e"/><rect x="470.2" y="681.33" width="12.2" height="2" rx="1" fill="#5e5e5e"/><rect x="470.2" y="684.96" width="12.2" height="2" rx="1" fill="#5e5e5e"/></g><circle cx="190" cy="932" r="3.6" fill="#10a0e3"/><text x="199.2" y="934.5" font-size="7.5" text-anchor="start" fill="#3c4143" >Full scale</text><rect x="245.3" y="931.3" width="11.2" height="1.4" fill="#191970"/><text x="260.4" y="934.8" font-size="7.5" text-anchor="start" fill="#3c4143" >Expanded scale</text></svg></div>
<div class="card" style="left:505px;top:662px;width:493px;height:292px"><svg width="493" height="292" viewBox="505 662 493 292"><rect x="507.6" y="664.8" width="487.2" height="286.4" rx="7" fill="#fff" stroke="#dcdddf" stroke-width="1.1"/><line x1="550.4" y1="698.1" x2="988.5" y2="698.1" stroke="#ececec" stroke-width="1" /><line x1="615.4" y1="698.1" x2="615.4" y2="894.3" stroke="#ececec" stroke-width="1" /><line x1="689.3" y1="698.1" x2="689.3" y2="894.3" stroke="#ececec" stroke-width="1" /><line x1="762.8" y1="698.1" x2="762.8" y2="894.3" stroke="#ececec" stroke-width="1" /><line x1="836.6" y1="698.1" x2="836.6" y2="894.3" stroke="#ececec" stroke-width="1" /><line x1="909.6" y1="698.1" x2="909.6" y2="894.3" stroke="#ececec" stroke-width="1" /><line x1="982.8" y1="698.1" x2="982.8" y2="894.3" stroke="#ececec" stroke-width="1" /><text transform="translate(539.2 700.4) scale(0.88 1)" font-size="8.7" text-anchor="end" fill="#3c4143" class="pp">10</text><text transform="translate(539.2 896.6) scale(0.88 1)" font-size="8.7" text-anchor="end" fill="#3c4143" class="pp">0</text><text transform="translate(525.2 796) rotate(-90)" font-size="7.3" text-anchor="middle" fill="#3c4143" class="yt" >Rainfall mm</text><g fill="#10a0e3"><rect x="644.38" y="890.9" width="1.4" height="3.4"/><rect x="647.32" y="887.12" width="1.4" height="7.18"/><rect x="650.54" y="887.12" width="1.4" height="7.18"/><rect x="656.7" y="863.32" width="1.4" height="30.98"/><rect x="659.78" y="863.32" width="1.4" height="30.98"/><rect x="662.86" y="863.32" width="1.4" height="30.98"/><rect x="665.94" y="863.32" width="1.4" height="30.98"/><rect x="669.02" y="863.32" width="1.4" height="30.98"/><rect x="672.1" y="863.32" width="1.4" height="30.98"/><rect x="675.18" y="863.32" width="1.4" height="30.98"/><rect x="678.26" y="863.32" width="1.4" height="30.98"/><rect x="681.34" y="863.32" width="1.4" height="30.98"/><rect x="687.5" y="863.32" width="1.4" height="30.98"/><rect x="690.58" y="863.32" width="1.4" height="30.98"/><rect x="693.66" y="863.32" width="1.4" height="30.98"/><rect x="699.82" y="863.32" width="1.4" height="30.98"/><rect x="702.9" y="863.32" width="1.4" height="30.98"/><rect x="709.06" y="863.32" width="1.4" height="30.98"/><rect x="712.14" y="863.32" width="1.4" height="30.98"/><rect x="718.3" y="863.32" width="1.4" height="30.98"/><rect x="721.38" y="863.32" width="1.4" height="30.98"/><rect x="724.46" y="863.32" width="1.4" height="30.98"/><rect x="727.54" y="863.32" width="1.4" height="30.98"/><rect x="730.62" y="863.32" width="1.4" height="30.98"/><rect x="733.7" y="863.32" width="1.4" height="30.98"/><rect x="736.78" y="863.32" width="1.4" height="30.98"/><rect x="742.94" y="863.32" width="1.4" height="30.98"/><rect x="746.02" y="863.32" width="1.4" height="30.98"/><rect x="752.18" y="863.32" width="1.4" height="30.98"/><rect x="758.06" y="863.32" width="1.4" height="30.98"/><rect x="761.14" y="863.32" width="1.4" height="30.98"/><rect x="764.22" y="859.12" width="1.4" height="35.18"/><rect x="767.44" y="859.12" width="1.4" height="35.18"/><rect x="770.38" y="859.12" width="1.4" height="35.18"/><rect x="773.32" y="851.28" width="1.4" height="43.02"/><rect x="776.82" y="847.5" width="1.4" height="46.8"/><rect x="782.7" y="832.1" width="1.4" height="62.2"/><rect x="785.78" y="828.18" width="1.4" height="66.12"/><rect x="789" y="823.98" width="1.4" height="70.32"/><rect x="792.08" y="820.2" width="1.4" height="74.1"/><rect x="794.88" y="792.9" width="1.4" height="101.4"/><rect x="797.82" y="785.2" width="1.4" height="109.1"/><rect x="800.9" y="785.2" width="1.4" height="109.1"/><rect x="803.98" y="785.2" width="1.4" height="109.1"/><rect x="807.06" y="785.2" width="1.4" height="109.1"/><rect x="810.14" y="785.2" width="1.4" height="109.1"/><rect x="813.22" y="785.2" width="1.4" height="109.1"/><rect x="816.3" y="785.2" width="1.4" height="109.1"/><rect x="819.38" y="785.2" width="1.4" height="109.1"/><rect x="822.46" y="785.2" width="1.4" height="109.1"/><rect x="825.54" y="785.2" width="1.4" height="109.1"/><rect x="828.62" y="785.2" width="1.4" height="109.1"/><rect x="831.7" y="785.2" width="1.4" height="109.1"/><rect x="834.78" y="785.2" width="1.4" height="109.1"/><rect x="837.86" y="785.2" width="1.4" height="109.1"/><rect x="840.94" y="785.2" width="1.4" height="109.1"/><rect x="844.02" y="785.2" width="1.4" height="109.1"/><rect x="847.1" y="785.2" width="1.4" height="109.1"/></g><g fill="#5b50cc"><rect x="654.74" y="859.12" width="1.4" height="35.18"/><rect x="657.68" y="879.28" width="1.4" height="15.02"/><rect x="774.58" y="863.6" width="1.4" height="30.7"/><rect x="777.8" y="871.3" width="1.4" height="23"/><rect x="780.6" y="769.1" width="1.4" height="125.2"/><rect x="783.54" y="879.28" width="1.4" height="15.02"/><rect x="792.78" y="879.28" width="1.4" height="15.02"/><rect x="795.72" y="816" width="1.4" height="78.3"/><rect x="799.22" y="863.32" width="1.4" height="30.98"/></g><line x1="550.7" y1="697.6" x2="550.7" y2="894.9" stroke="#7b8186" stroke-width="1.4" /><line x1="550" y1="894.4" x2="988.5" y2="894.4" stroke="#737679" stroke-width="1.2" /><line x1="615.4" y1="894.4" x2="615.4" y2="901.5" stroke="#5d6265" stroke-width="1.2" /><text x="615.4" y="912.3" font-size="7.5" text-anchor="middle" fill="#3c4143" >06:00</text><line x1="689.3" y1="894.4" x2="689.3" y2="901.5" stroke="#5d6265" stroke-width="1.2" /><text x="689.3" y="912.3" font-size="7.5" text-anchor="middle" fill="#3c4143" >12:00</text><line x1="762.8" y1="894.4" x2="762.8" y2="901.5" stroke="#5d6265" stroke-width="1.2" /><text x="762.8" y="912.3" font-size="7.5" text-anchor="middle" fill="#3c4143" >18:00</text><line x1="836.6" y1="894.4" x2="836.6" y2="901.5" stroke="#5d6265" stroke-width="1.2" /><text x="836.6" y="912.3" font-size="7.5" text-anchor="middle" fill="#3c4143" >11 Sep</text><line x1="909.6" y1="894.4" x2="909.6" y2="901.5" stroke="#5d6265" stroke-width="1.2" /><text x="909.6" y="912.3" font-size="7.5" text-anchor="middle" fill="#3c4143" >06:00</text><line x1="982.8" y1="894.4" x2="982.8" y2="901.5" stroke="#5d6265" stroke-width="1.2" /><text x="989" y="912.3" font-size="7.5" text-anchor="end" fill="#3c4143" >12:00</text><text x="513.6" y="679.4" font-size="11" text-anchor="start" fill="#373d3f" class="tt" textLength="76.3" lengthAdjust="spacingAndGlyphs">Rainfall (mm)</text><g class="menu"><rect x="973.2" y="677.7" width="12.2" height="2" rx="1" fill="#5e5e5e"/><rect x="973.2" y="681.33" width="12.2" height="2" rx="1" fill="#5e5e5e"/><rect x="973.2" y="684.96" width="12.2" height="2" rx="1" fill="#5e5e5e"/></g><circle cx="706.2" cy="931.6" r="3.6" fill="#10a0e3"/><text x="715.7" y="934.1" font-size="7.5" text-anchor="start" fill="#3c4143" >Rainfall</text><circle cx="760.6" cy="931.6" r="3.6" fill="#5b50cc"/><text x="769.7" y="934.1" font-size="7.5" text-anchor="start" fill="#3c4143" >Rain Rate</text></svg></div>
</body>
</html>
